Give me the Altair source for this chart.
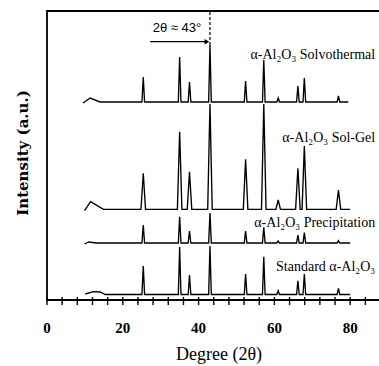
import altair as alt
import pandas as pd

# ---- data (2θ in degrees, intensity in arbitrary units) ----
peak_pos = [25.4, 35.0, 37.6, 43.0, 52.4, 57.2, 61.0, 66.2, 67.9, 76.9]

series_names = ["Solvothermal", "Sol-Gel", "Precipitation", "Standard"]
baselines = [198, 90.7, 57, 5.5]
ends = [79.5, 80.0, 80.0, 80.0]
hump_x = [[9.5, 11.4, 14.0], [9.9, 11.5, 14.9], [9.9, 11.0, 13.0], [10.1, 12.2, 14.0, 15.4]]
hump_y = [[197, 202, 198], [89.3, 98.3, 90.7], [56, 58, 57], [6, 8.3, 8.0, 5.5]]
peak_tops = [
    [223, 243, 218, 255, 219, 240, 202, 214, 222, 204],
    [126.7, 168.3, 128.3, 196, 140.7, 196, 100, 131.7, 154, 110],
    [75, 83.3, 69, 87, 69, 72.7, 59, 65, 67.3, 59.3],
    [34, 53, 25, 54, 26, 43.3, 9.3, 19.3, 26, 11.7],
]
half_width = [0.35, 0.6, 0.35, 0.35]

labels = ["α-Al₂O₃ Solvothermal", "α-Al₂O₃ Sol-Gel", "α-Al₂O₃ Precipitation", "Standard α-Al₂O₃"]
label_right = [86.6, 86.6, 86.6, 86.6]
label_y = [245, 161.7, 76.7, 33.3]

x_ticks = list(range(0, 88, 4))
x_labels = [0, 20, 40, 60, 80]
x_title = "Degree (2θ)"
y_title = "Intensity (a.u.)"
x_max = 87.6
y_max = 289

marker_deg = 43.0
marker_top = 255
arrow_from = 27.2
arrow_to = 42.2
arrow_y = 258.3
marker_text = "2θ ≈ 43°"
marker_text_x = 34.3
marker_text_y = 272

# ---- build table ----
rows = []
for i, name in enumerate(series_names):
    b = baselines[i]
    for hx, hy in zip(hump_x[i], hump_y[i]):
        rows.append({"series": name, "x": hx, "y": hy})
    for p, t in zip(peak_pos, peak_tops[i]):
        w = half_width[i]
        rows.append({"series": name, "x": p - w, "y": b})
        rows.append({"series": name, "x": p, "y": t})
        rows.append({"series": name, "x": p + w, "y": b})
    rows.append({"series": name, "x": ends[i], "y": b})
df = pd.DataFrame(rows).sort_values(["series", "x"])

W, H = 332, 289
xs = alt.Scale(domain=[0, x_max], nice=False, zero=False)
ys = alt.Scale(domain=[0, y_max], nice=False, zero=False)
X = lambda f="x:Q": alt.X(f, scale=xs, axis=None)
Y = lambda f="y:Q": alt.Y(f, scale=ys, axis=None)

# frame (top, left and bottom edges; right edge lies outside the picture)
frame = alt.Chart(pd.DataFrame({"a": [0]})).mark_rect(
    fillOpacity=0, stroke="black", strokeWidth=1.8).encode(
    x=alt.value(0), x2=alt.value(W + 6), y=alt.value(0), y2=alt.value(H))

lines = alt.Chart(df).mark_line(color="black", strokeWidth=1.35).encode(
    x=X(), y=Y(), detail="series:N", order="x:Q")

lab_df = pd.DataFrame({"label": labels, "x": label_right, "y": label_y})
texts = alt.Chart(lab_df).mark_text(align="right", baseline="middle", font="Liberation Serif",
                                     fontSize=14, color="black").encode(
    x=X(), y=Y(), text="label:N")

dash_df = pd.DataFrame({"x": [marker_deg], "y": [marker_top], "y2": [y_max]})
dash = alt.Chart(dash_df).mark_rule(color="black", strokeDash=[3, 2], strokeWidth=1.2).encode(
    x=X(), y=Y(), y2="y2:Q")

arr_df = pd.DataFrame({"x": [arrow_from], "x2": [arrow_to], "y": [arrow_y]})
arrow_line = alt.Chart(arr_df).mark_rule(color="black", strokeWidth=1.2).encode(
    x=X(), x2="x2:Q", y=Y())
head_df = pd.DataFrame({"x": [arrow_to], "y": [arrow_y]})
arrow_head = alt.Chart(head_df).mark_point(shape="triangle-right", filled=True, color="black",
                                           size=30, opacity=1).encode(x=X(), y=Y())

mt_df = pd.DataFrame({"t": [marker_text], "x": [marker_text_x], "y": [marker_text_y]})
marker_label = alt.Chart(mt_df).mark_text(font="Liberation Sans", fontSize=13, color="black",
                                          align="center", baseline="middle").encode(
    x=X(), y=Y(), text="t:N")

tick_df = pd.DataFrame({"x": x_ticks})
ticks = alt.Chart(tick_df).mark_rule(color="black", strokeWidth=1.4).encode(
    x=X(), y=alt.value(H - 3), y2=alt.value(H + 5))

tl_df = pd.DataFrame({"x": x_labels, "t": [str(v) for v in x_labels]})
tick_labels = alt.Chart(tl_df).mark_text(font="Liberation Serif", fontWeight="bold", fontSize=15,
                                         color="black", baseline="middle", align="center").encode(
    x=X(), y=alt.value(H + 28), text="t:N")

xt = alt.Chart(pd.DataFrame({"t": [x_title]})).mark_text(
    font="Liberation Serif", fontSize=18, color="black", baseline="middle", align="center").encode(
    x=alt.value(W / 2 + 6), y=alt.value(H + 55), text="t:N")
yt = alt.Chart(pd.DataFrame({"t": [y_title]})).mark_text(
    font="DejaVu Serif", fontWeight="bold", fontSize=15, color="black", angle=270,
    baseline="middle", align="center").encode(
    x=alt.value(-24), y=alt.value(142), text="t:N")

chart = alt.layer(frame, lines, texts, dash, arrow_line, arrow_head, marker_label,
                  ticks, tick_labels, xt, yt).properties(
    width=W, height=H,
    autosize=alt.AutoSizeParams(type="none"),
    padding={"left": 47, "top": 11, "right": 0, "bottom": 66},
).configure_view(stroke=None).configure(background="white")

chart.save("out.html", embed_options={"renderer": "svg", "actions": False})
